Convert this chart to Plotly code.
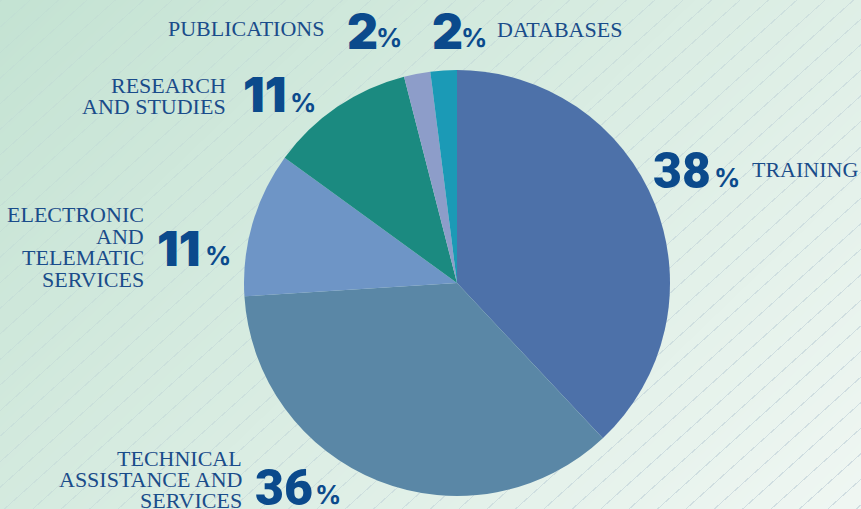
import base64, struct, zlib
import numpy as np
import plotly.graph_objects as go

# ---------------- data ----------------
categories = ["TRAINING", "TECHNICAL ASSISTANCE AND SERVICES", "ELECTRONIC AND TELEMATIC SERVICES",
              "RESEARCH AND STUDIES", "PUBLICATIONS", "DATABASES"]
shares = [38, 36, 11, 11, 2, 2]
slice_colors = ["#4d71a9", "#5a87a6", "#6e95c6", "#1b8a80", "#8d9dc9", "#1b9ab6"]

W, H = 861, 509

# ---------------- background (gradient + faint diagonal lines) ----------------
def make_bg():
    yy, xx = np.mgrid[0:H, 0:W].astype(float)
    t = 0.62 * xx / W + 0.38 * yy / H
    c0 = np.array([0xc4, 0xe3, 0xd3], float)
    c1 = np.array([0xf0, 0xf7, 0xf3], float)
    img = c0[None, None, :] * (1 - t[..., None]) + c1[None, None, :] * t[..., None]
    a = np.deg2rad(42)
    d = (xx * np.sin(a) + yy * np.cos(a)) % 19.0
    mask = (d < 1.0)
    lc = np.array([0xb0, 0xc4, 0xd0], float)
    alpha = (0.12 + 0.38 * t)[..., None]
    blended = img * (1 - alpha) + lc[None, None, :] * alpha
    img[mask] = blended[mask]
    img = np.clip(img, 0, 255).astype(np.uint8)
    raw = b"".join(b"\x00" + img[r].tobytes() for r in range(H))
    def chunk(tag, data):
        c = struct.pack(">I", len(data)) + tag + data
        return c + struct.pack(">I", zlib.crc32(tag + data) & 0xffffffff)
    png = b"\x89PNG\r\n\x1a\n" + chunk(b"IHDR", struct.pack(">IIBBBBB", W, H, 8, 2, 0, 0, 0)) \
        + chunk(b"IDAT", zlib.compress(raw, 9)) + chunk(b"IEND", b"")
    return "data:image/png;base64," + base64.b64encode(png).decode()

fig = go.Figure()
fig.add_trace(go.Pie(
    labels=categories, values=shares, sort=False, direction="clockwise", rotation=0,
    marker=dict(colors=slice_colors, line=dict(width=0)),
    textinfo="none", hoverinfo="label+percent", showlegend=False,
    domain=dict(x=[244 / W, 670 / W], y=[1 - 496 / H, 1 - 70 / H]),
))

TXT = "#1a4c8a"
NUM = "#0b4a8c"
SERIF = "Liberation Serif, DejaVu Serif, serif"
INTER = "Inter, Roboto, Liberation Sans, sans-serif"
ROBOTO = "Roboto, Inter, Liberation Sans, sans-serif"

def px(x, y):
    return x / W, 1 - y / H

def label(text, x, y, anchor):
    ax, ay = px(x, y)
    fig.add_annotation(x=ax, y=ay, xref="paper", yref="paper", text=text, showarrow=False,
                       xanchor=anchor, yanchor="middle",
                       font=dict(family=SERIF, size=22, color=TXT))

def number(val, x, y, fam=INTER, size=48):
    ax, ay = px(x, y)
    fig.add_annotation(x=ax, y=ay, xref="paper", yref="paper", text=str(val), showarrow=False,
                       xanchor="left", yanchor="middle",
                       font=dict(family=fam, size=size, color=NUM, weight=900))

def pct(x, y):
    ax, ay = px(x, y)
    fig.add_annotation(x=ax, y=ay, xref="paper", yref="paper", text="%", showarrow=False,
                       xanchor="left", yanchor="middle",
                       font=dict(family=INTER, size=26, color=NUM, weight=700))

# PUBLICATIONS / DATABASES
label("PUBLICATIONS", 326, 29, "right")
number(shares[4], 345, 31)
pct(374, 38)
number(shares[5], 430, 31)
pct(459, 38)
label("DATABASES", 495, 30, "left")

# RESEARCH
label("RESEARCH", 228, 86, "right")
label("AND STUDIES", 228, 106, "right")
number(shares[3], 241, 95)
pct(288, 102)

# TRAINING
number(shares[0], 651, 171, fam=ROBOTO, size=50)
pct(712, 178)
label("TRAINING", 750, 170, "left")

# ELECTRONIC
for i, s in enumerate(["ELECTRONIC", "AND", "TELEMATIC", "SERVICES"]):
    label(s, 146, 214.5 + 21.6 * i, "right")
number(shares[2], 155, 248.5)
pct(203, 255)

# TECHNICAL
for i, s in enumerate(["TECHNICAL", "ASSISTANCE AND", "SERVICES"]):
    label(s, 244, 458 + 21 * i, "right")
number(shares[1], 253, 488, fam=ROBOTO, size=50)
pct(313, 494)

fig.update_layout(
    width=W, height=H, margin=dict(l=0, r=0, t=0, b=0),
    paper_bgcolor="#d8ece1", plot_bgcolor="rgba(0,0,0,0)",
    images=[dict(source=make_bg(), xref="paper", yref="paper", x=0, y=1, sizex=1, sizey=1,
                 xanchor="left", yanchor="top", sizing="stretch", layer="below")],
)

fig.write_html("out.html", config={"displayModeBar": False},
               post_script="document.body.style.margin='0';document.body.style.overflow='hidden';")
